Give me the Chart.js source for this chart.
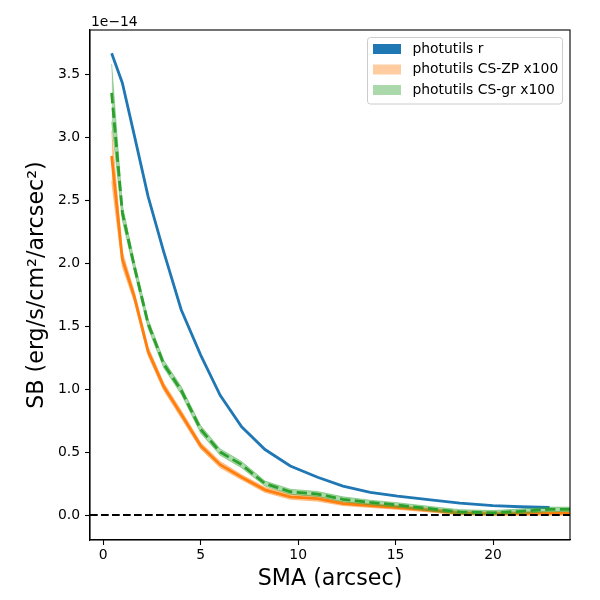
<!DOCTYPE html>
<html>
<head>
<meta charset="utf-8">
<script src="https://cdn.jsdelivr.net/npm/chart.js@4.4.1/dist/chart.umd.min.js"></script>
<style>
  html, body { margin: 0; padding: 0; background: #ffffff; }
  #wrap { width: 600px; height: 600px; }
</style>
</head>
<body>
<div id="wrap"><canvas id="c" width="600" height="600"></canvas></div>
<script>
// ---- data (SB in units of 1e-14) ----
const X_MIN = -0.68, X_MAX = 23.95;
const Y_MIN = -0.198, Y_MAX = 3.85;
const xTicks = [0, 5, 10, 15, 20];
const yTicks = [0.0, 0.5, 1.0, 1.5, 2.0, 2.5, 3.0, 3.5];
const offsetText = '1e\u221214';

const smaR  = [0.43, 0.98, 1.6, 2.3, 3.1, 4.0, 5.0, 6.0, 7.1, 8.3, 9.6, 11.0, 12.3, 13.7, 15.1, 16.8, 18.3, 20.0, 21.4, 22.9];
const sbR   = [3.665, 3.43, 3.01, 2.53, 2.09, 1.63, 1.27, 0.95, 0.70, 0.52, 0.39, 0.30, 0.23, 0.18, 0.15, 0.12, 0.095, 0.075, 0.066, 0.06];

const smaCS = [0.43, 0.98, 1.6, 2.3, 3.1, 4.0, 5.0, 6.0, 7.1, 8.3, 9.6, 11.0, 12.3, 13.7, 15.1, 16.8, 18.3, 20.0, 21.4, 22.9, 24.5];
const sbZP  = [2.85, 2.03, 1.73, 1.30, 1.02, 0.80, 0.55, 0.40, 0.30, 0.20, 0.145, 0.13, 0.09, 0.075, 0.06, 0.038, 0.016, 0.01, 0.011, 0.013, 0.013];
const errZP = [0.20, 0.06, 0.04, 0.035, 0.03, 0.03, 0.025, 0.025, 0.02, 0.02, 0.02, 0.02, 0.015, 0.015, 0.015, 0.015, 0.015, 0.015, 0.015, 0.015, 0.015];
const sbGR  = [3.35, 2.40, 1.97, 1.52, 1.20, 0.99, 0.68, 0.50, 0.40, 0.25, 0.185, 0.167, 0.125, 0.10, 0.08, 0.05, 0.025, 0.018, 0.03, 0.045, 0.045];
const errGR = [0.23, 0.06, 0.04, 0.035, 0.03, 0.03, 0.03, 0.025, 0.025, 0.02, 0.02, 0.02, 0.02, 0.018, 0.018, 0.018, 0.018, 0.018, 0.018, 0.018, 0.018];

const labels = ['photutils r', 'photutils CS-ZP x100', 'photutils CS-gr x100'];
const zeroX = [X_MIN, X_MAX];
const zeroY = [0, 0];

// ---- helpers ----
const pts = (xs, ys) => xs.map((x, i) => ({ x: x, y: ys[i] }));
const band = (xs, ys, es, sgn) => xs.map((x, i) => ({ x: x, y: ys[i] + sgn * es[i] }));

const C_BLUE = '#1f77b4';
const C_ORANGE = '#ff7f0e';
const C_GREEN = '#2ca02c';
const A_ORANGE = 'rgba(255,127,14,0.4)';
const A_GREEN = 'rgba(44,160,44,0.4)';
const FONT = 'DejaVu Sans';

const datasets = [
  { label: 'zero', data: pts(zeroX, zeroY), borderColor: '#000', borderWidth: 2, borderDash: [7.7, 3.3], pointRadius: 0, order: 0, fill: false },
  { label: 'grLine', data: pts(smaCS, sbGR), borderColor: C_GREEN, borderWidth: 2.8, borderDash: [10.3, 4.4], pointRadius: 0, order: 1, fill: false },
  { label: 'grUp', data: band(smaCS, sbGR, errGR, 1), borderColor: A_GREEN, borderWidth: 1, backgroundColor: A_GREEN, pointRadius: 0, order: 2, fill: '+1' },
  { label: 'grLo', data: band(smaCS, sbGR, errGR, -1), borderColor: A_GREEN, borderWidth: 1, pointRadius: 0, order: 3, fill: false },
  { label: 'zpLine', data: pts(smaCS, sbZP), borderColor: C_ORANGE, borderWidth: 2.8, pointRadius: 0, order: 4, fill: false },
  { label: 'zpUp', data: band(smaCS, sbZP, errZP, 1), borderColor: A_ORANGE, borderWidth: 1, backgroundColor: A_ORANGE, pointRadius: 0, order: 5, fill: '+1' },
  { label: 'zpLo', data: band(smaCS, sbZP, errZP, -1), borderColor: A_ORANGE, borderWidth: 1, pointRadius: 0, order: 6, fill: false },
  { label: 'rLine', data: pts(smaR, sbR), borderColor: C_BLUE, borderWidth: 2.8, pointRadius: 0, order: 7, fill: false }
];

const legendItems = [
  { text: labels[0], color: C_BLUE },
  { text: labels[1], color: A_ORANGE },
  { text: labels[2], color: A_GREEN }
];

const decor = {
  id: 'decor',
  afterDraw(chart) {
    const ctx = chart.ctx;
    const a = chart.chartArea;
    ctx.save();
    // frame
    ctx.strokeStyle = '#000';
    ctx.lineWidth = 1.1;
    ctx.strokeRect(a.left, a.top, a.right - a.left, a.bottom - a.top);
    // offset text
    ctx.fillStyle = '#000';
    ctx.font = '13.9px "' + FONT + '"';
    ctx.textAlign = 'left';
    ctx.textBaseline = 'alphabetic';
    ctx.fillText(offsetText, a.left + 1, a.top - 4);
    // legend
    const bx = 367.5, by = 37.5, bw = 195, bh = 66.5, r = 3;
    ctx.beginPath();
    ctx.moveTo(bx + r, by);
    ctx.lineTo(bx + bw - r, by); ctx.quadraticCurveTo(bx + bw, by, bx + bw, by + r);
    ctx.lineTo(bx + bw, by + bh - r); ctx.quadraticCurveTo(bx + bw, by + bh, bx + bw - r, by + bh);
    ctx.lineTo(bx + r, by + bh); ctx.quadraticCurveTo(bx, by + bh, bx, by + bh - r);
    ctx.lineTo(bx, by + r); ctx.quadraticCurveTo(bx, by, bx + r, by);
    ctx.closePath();
    ctx.fillStyle = 'rgba(255,255,255,0.8)';
    ctx.fill();
    ctx.strokeStyle = '#cccccc';
    ctx.lineWidth = 1;
    ctx.stroke();
    ctx.textBaseline = 'middle';
    legendItems.forEach((it, i) => {
      const cy = 49 + i * 20.5;
      ctx.fillStyle = it.color;
      ctx.fillRect(373, cy - 5, 28, 10);
      ctx.fillStyle = '#000';
      ctx.fillText(it.text, 412.5, cy);
    });
    ctx.restore();
  }
};

new Chart(document.getElementById('c'), {
  type: 'line',
  data: { datasets: datasets },
  options: {
    responsive: false,
    animation: false,
    devicePixelRatio: 1,
    layout: { padding: { left: 0, right: 30, top: 30, bottom: 0 } },
    plugins: { legend: { display: false }, tooltip: { enabled: false } },
    elements: { line: { tension: 0 } },
    scales: {
      x: {
        type: 'linear', min: X_MIN, max: X_MAX,
        afterBuildTicks: s => { s.ticks = xTicks.map(v => ({ value: v })); },
        afterFit: s => { s.height = 60; },
        ticks: { color: '#000', font: { family: FONT, size: 13.9 }, padding: 2, maxRotation: 0, callback: v => String(v) },
        grid: { drawOnChartArea: false, drawTicks: true, tickLength: 5, color: '#000', tickWidth: 1.1 },
        border: { display: true, color: '#000', width: 1.1 },
        title: { display: true, text: 'SMA (arcsec)', color: '#000', font: { family: FONT, size: 22.2 }, padding: { top: 0, bottom: 7 } }
      },
      y: {
        type: 'linear', min: Y_MIN, max: Y_MAX,
        afterBuildTicks: s => { s.ticks = yTicks.map(v => ({ value: v })); },
        afterFit: s => { s.width = 90; },
        ticks: { color: '#000', font: { family: FONT, size: 13.9 }, padding: 5, callback: v => Number(v).toFixed(1) },
        grid: { drawOnChartArea: false, drawTicks: true, tickLength: 5, color: '#000', tickWidth: 1.1 },
        border: { display: true, color: '#000', width: 1.1 },
        title: { display: true, text: 'SB (erg/s/cm\u00b2/arcsec\u00b2)', color: '#000', font: { family: FONT, size: 22.2 }, padding: { top: 24, bottom: 0 } }
      }
    }
  },
  plugins: [decor]
});
</script>
</body>
</html>
